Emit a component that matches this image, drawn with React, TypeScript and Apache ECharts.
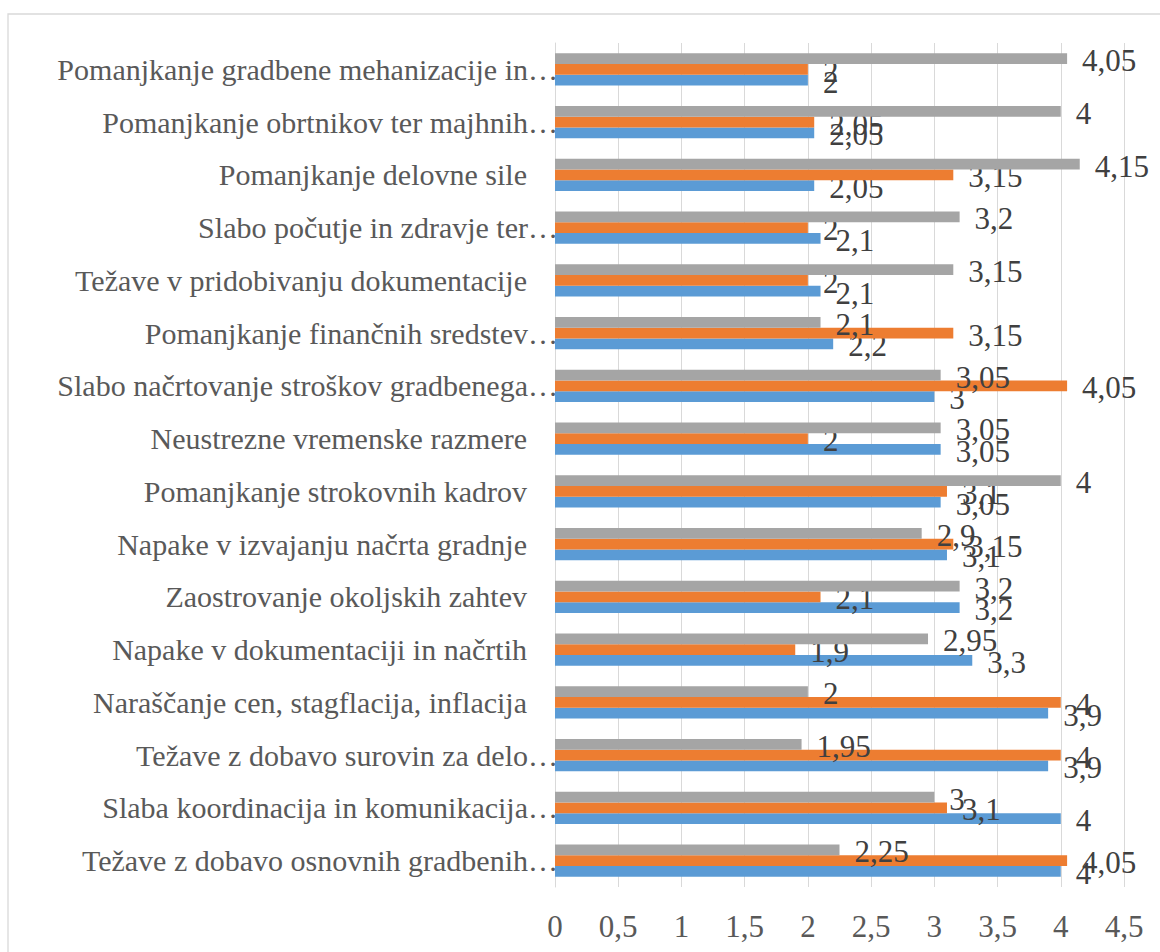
import React, { useEffect, useRef } from "react";
import * as echarts from "echarts";

const categories = [
  "Pomanjkanje gradbene mehanizacije in…",
  "Pomanjkanje obrtnikov ter majhnih…",
  "Pomanjkanje delovne sile",
  "Slabo počutje in zdravje ter…",
  "Težave v pridobivanju dokumentacije",
  "Pomanjkanje finančnih sredstev…",
  "Slabo načrtovanje stroškov gradbenega…",
  "Neustrezne vremenske razmere",
  "Pomanjkanje strokovnih kadrov",
  "Napake v izvajanju načrta gradnje",
  "Zaostrovanje okoljskih zahtev",
  "Napake v dokumentaciji in načrtih",
  "Naraščanje cen, stagflacija, inflacija",
  "Težave z dobavo surovin za delo…",
  "Slaba koordinacija in komunikacija…",
  "Težave z dobavo osnovnih gradbenih…",
];

const seriesBlue = [2, 2.05, 2.05, 2.1, 2.1, 2.2, 3, 3.05, 3.05, 3.1, 3.2, 3.3, 3.9, 3.9, 4, 4];
const seriesOrange = [2, 2.05, 3.15, 2, 2, 3.15, 4.05, 2, 3.1, 3.15, 2.1, 1.9, 4, 4, 3.1, 4.05];
const seriesGray = [4.05, 4, 4.15, 3.2, 3.15, 2.1, 3.05, 3.05, 4, 2.9, 3.2, 2.95, 2, 1.95, 3, 2.25];

const FONT = "Liberation Serif, DejaVu Serif, serif";
const fmt = (v: number) => String(v).replace(".", ",");

export default function App() {
  const ref = useRef<HTMLDivElement>(null);
  useEffect(() => {
    if (!ref.current) return;
    const chart = echarts.init(ref.current, null, { renderer: "svg" });
    const label = {
      show: true,
      position: "right" as const,
      distance: 15,
      fontSize: 31,
      fontFamily: FONT,
      color: "#404040",
      offset: [0, 2],
      formatter: (p: any) => fmt(p.value),
    };
    const mk = (name: string, data: number[], color: string, z: number) => ({
      name,
      type: "bar",
      data,
      z,
      barGap: "0%",
      barCategoryGap: "39%",
      itemStyle: { color },
      label,
    });
    chart.setOption({
      animation: false,
      backgroundColor: "#ffffff",
      textStyle: { fontFamily: FONT },
      grid: { left: 555, right: 36, top: 43, bottom: 65, containLabel: false },
      xAxis: {
        type: "value",
        min: 0,
        max: 4.5,
        interval: 0.5,
        axisLine: { show: false },
        axisTick: { show: false },
        splitLine: { show: true, lineStyle: { color: "#D9D9D9", width: 1 } },
        axisLabel: {
          fontSize: 31,
          fontFamily: FONT,
          color: "#595959",
          margin: 24,
          formatter: (v: number) => fmt(v),
        },
      },
      yAxis: {
        type: "category",
        inverse: true,
        data: categories,
        axisLine: { show: true, lineStyle: { color: "#D9D9D9", width: 1 } },
        axisTick: { show: false },
        axisLabel: {
          margin: -3,
          fontSize: 30,
          fontFamily: FONT,
          color: "#595959",
          formatter: (v: string) => (v.endsWith("…") ? `{t|${v}}` : `{p|${v}}`),
          rich: {
            t: { fontSize: 30, fontFamily: FONT, color: "#595959" },
            p: { fontSize: 30, fontFamily: FONT, color: "#595959", padding: [0, 31, 0, 0] },
          },
        },
      },
      graphic: [
        {
          type: "rect",
          shape: { x: 8, y: 14, width: 1170, height: 960 },
          style: { fill: "none", stroke: "#D9D9D9", lineWidth: 1.3 },
          silent: true,
        },
      ],
      series: [
        mk("S3", seriesGray, "#A5A5A5", 4),
        mk("S2", seriesOrange, "#ED7D31", 3),
        mk("S1", seriesBlue, "#5B9BD5", 2),
      ],
    });
    return () => chart.dispose();
  }, []);
  return (
    <>
      <style>{`#chart-host svg text { font-family: "Liberation Serif", "DejaVu Serif", serif !important; }`}</style>
      <div
        id="chart-host"
        ref={ref}
        style={{ position: "fixed", left: 0, top: 0, width: 1160, height: 952, background: "#fff" }}
      />
    </>
  );
}
